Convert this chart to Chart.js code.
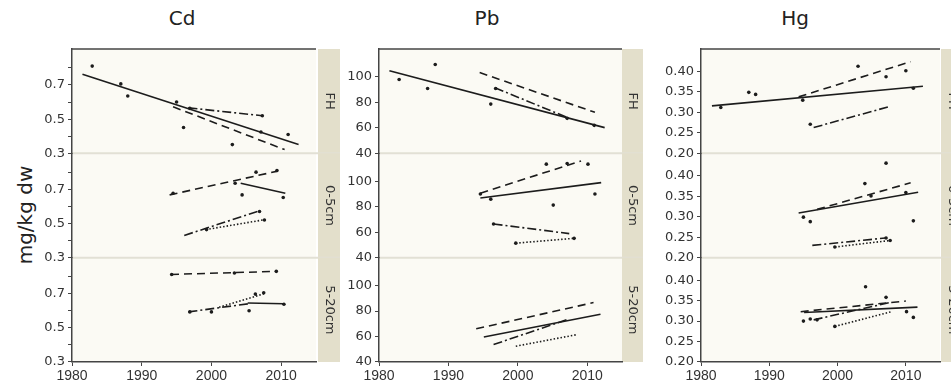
<!DOCTYPE html>
<html>
<head>
<meta charset="utf-8">
<script src="https://cdn.jsdelivr.net/npm/chart.js@4"></script>
<style>
  body { margin: 0; background: #fff; width: 951px; height: 385px; overflow: hidden; position: relative; font-family: "DejaVu Sans", sans-serif; }
  canvas { position: absolute; top: 0; }
  .title { position: absolute; top: 6px; font-size: 20px; line-height: 24px; color: #222; transform: translateX(-50%); }
  .ylab { position: absolute; left: 25px; top: 215px; font-size: 20px; color: #222; white-space: nowrap; transform: translate(-50%, -50%) rotate(-90deg); }
</style>
</head>
<body>
<div class="title" style="left:182px">Cd</div>
<div class="title" style="left:487px">Pb</div>
<div class="title" style="left:795px">Hg</div>
<div class="ylab">mg/kg dw</div>
<canvas id="cd" width="315" height="385" style="left:30px"></canvas>
<canvas id="pb" width="305" height="385" style="left:345px"></canvas>
<canvas id="hg" width="301" height="385" style="left:650px"></canvas>
<script>
// facet rows and axis ticks
const facets = ['FH', '0-5cm', '5-20cm'];
const xTicks = [1980, 1990, 2000, 2010];
const cdTicks = [0.3, 0.4, 0.5, 0.6, 0.7, 0.8];
const cdLabels = [0.3, 0.5, 0.7];
const pbTicks = [40, 60, 80, 100];
const hgTicks = [0.20, 0.25, 0.30, 0.35, 0.40];

// Cd  [year, mg/kg]
const cdFhPoints = [[1982.9,0.81],[1987.0,0.706],[1988.0,0.635],[1995.0,0.60],[1996.0,0.451],[1996.9,0.563],[2003.0,0.351],[2007.1,0.425],[2007.3,0.52],[2011.0,0.41]];
const cdFhSolid = [[1981.5,0.763],[2012.5,0.351]];
const cdFhDash = [[1994.5,0.572],[2010.5,0.322]];
const cdFhDashDot = [[1996.7,0.566],[2007.3,0.52]];

const cd05Points = [[1994.5,0.677],[2003.4,0.735],[2004.4,0.667],[2006.4,0.80],[2009.4,0.81],[2010.3,0.652],[1999.3,0.464],[2006.9,0.57],[2007.6,0.52]];
const cd05Solid = [[2004.2,0.735],[2010.6,0.677]];
const cd05Dash = [[1994.0,0.667],[2009.5,0.806]];
const cd05DashDot = [[1996.1,0.43],[2006.9,0.574]];
const cd05Dotted = [[1999.2,0.464],[2007.6,0.522]];

const cd520Points = [[1994.3,0.812],[2003.3,0.82],[2009.3,0.83],[1996.9,0.593],[2000.0,0.593],[2005.4,0.60],[2006.3,0.697],[2007.5,0.705],[2010.4,0.638]];
const cd520Solid = [[2005.2,0.645],[2010.4,0.641]];
const cd520Dash = [[1994.2,0.812],[2009.5,0.83]];
const cd520DashDot = [[1996.7,0.593],[2005.4,0.641]];
const cd520Dotted = [[2001.1,0.62],[2007.6,0.70]];

// Pb
const pbFhPoints = [[1982.9,98],[1987.0,91],[1988.1,109.8],[1996.1,78.7],[1996.8,91],[2007.1,67.5],[2011.0,62]];
const pbFhSolid = [[1981.5,104.9],[2012.5,60.2]];
const pbFhDash = [[1994.5,103.5],[2011.1,72.2]];
const pbFhDashDot = [[1996.7,91.5],[2007.2,68]];

const pb05Points = [[1994.6,90],[1996.1,86],[2004.1,113.5],[2005.1,81.3],[2007.1,114],[2010.1,113.5],[2011.1,90],[1996.5,66.5],[1999.7,51.4],[2008.1,55.2]];
const pb05Solid = [[1994.6,86.9],[2012.0,99]];
const pb05Dash = [[1994.6,90.7],[2009.1,116]];
const pb05DashDot = [[1996.5,66.5],[2007.4,58.9]];
const pb05Dotted = [[1999.7,51.4],[2008.1,55.2]];

const pb520Points = [];
const pb520Solid = [[1995.1,59.6],[2011.9,77.5]];
const pb520Dash = [[1994.0,66.1],[2010.9,86.7]];
const pb520DashDot = [[1996.5,53.7],[2007.2,73.5]];
const pb520Dotted = [[1999.7,52.4],[2008.6,61.6]];

// Hg
const hgFhPoints = [[1982.9,0.312],[1987.0,0.349],[1988.0,0.344],[1994.9,0.33],[1996.0,0.271],[2003.0,0.413],[2007.1,0.387],[2010.0,0.402],[2011.1,0.359]];
const hgFhSolid = [[1981.6,0.316],[2012.5,0.364]];
const hgFhDash = [[1994.3,0.338],[2010.7,0.424]];
const hgFhDashDot = [[1996.5,0.263],[2007.5,0.314]];

const hg05Points = [[1995.0,0.299],[1996.0,0.288],[2004.0,0.381],[2004.9,0.351],[2007.1,0.431],[2010.0,0.359],[2011.1,0.29],[1999.6,0.226],[2007.1,0.248],[2007.7,0.242]];
const hg05Solid = [[1994.3,0.309],[2011.8,0.36]];
const hg05Dash = [[1997.0,0.318],[2010.7,0.383]];
const hg05DashDot = [[1996.3,0.23],[2007.0,0.248]];
const hg05Dotted = [[1999.6,0.226],[2007.7,0.242]];

const hg520Points = [[1995.0,0.30],[1996.0,0.305],[1997.0,0.303],[1999.6,0.287],[2004.1,0.384],[2007.1,0.358],[2010.1,0.323],[2011.1,0.309]];
const hg520Solid = [[1995.1,0.321],[2011.7,0.334]];
const hg520Dash = [[1994.6,0.323],[2010.0,0.349]];
const hg520DashDot = [[1996.5,0.303],[2007.8,0.346]];
const hg520Dotted = [[1999.6,0.287],[2007.9,0.323]];

const ink = '#1c1c1c';
const dashes = { solid: [], dash: [8, 5], dashDot: [9, 3, 2, 3], dotted: [1.5, 2] };
const rowIds = ['yFH', 'y05', 'y520'];

// background, row separators, top frame and the grey facet strips
const facetPlugin = {
  id: 'facet',
  beforeDraw(chart, args, opts) {
    const { ctx, chartArea: a } = chart;
    const sx = a.right + opts.gap;
    ctx.save();
    ctx.fillStyle = '#fbfaf4';
    ctx.fillRect(a.left, a.top, a.right - a.left, a.bottom - a.top);
    rowIds.forEach((id, i) => {
      const s = chart.scales[id];
      ctx.fillStyle = '#e3dfcb';
      ctx.fillRect(sx, s.top, opts.width, s.bottom - s.top);
      ctx.save();
      ctx.translate(sx + opts.width / 2, (s.top + s.bottom) / 2);
      ctx.rotate(Math.PI / 2);
      ctx.fillStyle = '#333';
      ctx.font = '13px "DejaVu Sans"';
      ctx.textAlign = 'center';
      ctx.textBaseline = 'middle';
      ctx.fillText(facets[i], 0, 0);
      ctx.restore();
      if (i < 2) {
        ctx.strokeStyle = '#e2e0d5';
        ctx.lineWidth = 2;
        ctx.beginPath();
        ctx.moveTo(a.left, s.bottom);
        ctx.lineTo(sx + opts.width, s.bottom);
        ctx.stroke();
      }
    });
    ctx.strokeStyle = '#444';
    ctx.lineWidth = 1.5;
    ctx.beginPath();
    ctx.moveTo(a.left, a.top);
    ctx.lineTo(a.right, a.top);
    ctx.stroke();
    ctx.restore();
  }
};

let toXY = pts => pts.map(p => ({ x: p[0], y: p[1] }));

let lineSet = (pts, style, axis) => ({
  type: 'line', data: toXY(pts), yAxisID: axis,
  borderColor: ink, borderWidth: 1.6, borderDash: dashes[style],
  pointRadius: 0, fill: false, tension: 0
});

let pointSet = (pts, axis) => ({
  type: 'scatter', data: toXY(pts), yAxisID: axis,
  pointRadius: 1.8, backgroundColor: ink, borderWidth: 0
});

let yScale = (weight, min, max, ticks, fmt, w) => ({
  type: 'linear', position: 'left', stack: 'rows', stackWeight: 1, weight: weight,
  min: min, max: max,
  afterBuildTicks: s => { s.ticks = ticks.map(v => ({ value: v })); },
  afterFit: s => { s.width = w; },
  grid: { drawOnChartArea: false, tickLength: 4, color: '#444' },
  border: { color: '#444', width: 1.5 },
  ticks: { callback: fmt, color: '#333', padding: 3, autoSkip: false, font: { family: 'DejaVu Sans', size: 13 } }
});

let drawColumn = (id, rows, y, pad) => {
  const datasets = [];
  rows.forEach((r, i) => {
    const axis = rowIds[i];
    ['solid', 'dash', 'dashDot', 'dotted'].forEach(k => {
      if (r[k]) datasets.push(lineSet(r[k], k, axis));
    });
    if (r.points.length) datasets.push(pointSet(r.points, axis));
  });
  new Chart(document.getElementById(id), {
    type: 'scatter',
    data: { datasets: datasets },
    plugins: [facetPlugin],
    options: {
      responsive: false,
      animation: false,
      layout: { padding: { top: 49, right: pad.right, bottom: 3, left: 0 } },
      plugins: {
        legend: { display: false },
        tooltip: { enabled: false },
        facet: { gap: pad.gap, width: pad.strip }
      },
      scales: {
        x: {
          type: 'linear', min: 1980, max: 2015,
          afterBuildTicks: s => { s.ticks = xTicks.map(v => ({ value: v })); },
          afterFit: s => { s.height = 20; },
          grid: { drawOnChartArea: false, tickLength: 4, color: '#444' },
          border: { color: '#444', width: 1.5 },
          ticks: { callback: v => String(v), color: '#333', padding: 2, maxRotation: 0, autoSkip: false, font: { family: 'Liberation Sans', size: 14 } }
        },
        yFH: yScale(3, y.min, y.max, y.ticks, y.fmt, y.w),
        y05: yScale(2, y.min, y.max, y.ticks, y.fmt, y.w),
        y520: yScale(1, y.min, y.max, y.ticks, y.fmt, y.w)
      }
    }
  });
};

drawColumn('cd', [
  { points: cdFhPoints, solid: cdFhSolid, dash: cdFhDash, dashDot: cdFhDashDot },
  { points: cd05Points, solid: cd05Solid, dash: cd05Dash, dashDot: cd05DashDot, dotted: cd05Dotted },
  { points: cd520Points, solid: cd520Solid, dash: cd520Dash, dashDot: cd520DashDot, dotted: cd520Dotted }
], { min: 0.3, max: 0.91, ticks: cdTicks, fmt: v => cdLabels.includes(v) ? v.toFixed(1) : '', w: 42 },
   { right: 29, gap: 2, strip: 22 });

drawColumn('pb', [
  { points: pbFhPoints, solid: pbFhSolid, dash: pbFhDash, dashDot: pbFhDashDot },
  { points: pb05Points, solid: pb05Solid, dash: pb05Dash, dashDot: pb05DashDot, dotted: pb05Dotted },
  { points: pb520Points, solid: pb520Solid, dash: pb520Dash, dashDot: pb520DashDot, dotted: pb520Dotted }
], { min: 40, max: 122, ticks: pbTicks, fmt: v => String(v), w: 34 },
   { right: 28, gap: 0, strip: 21 });

drawColumn('hg', [
  { points: hgFhPoints, solid: hgFhSolid, dash: hgFhDash, dashDot: hgFhDashDot },
  { points: hg05Points, solid: hg05Solid, dash: hg05Dash, dashDot: hg05DashDot, dotted: hg05Dotted },
  { points: hg520Points, solid: hg520Solid, dash: hg520Dash, dashDot: hg520DashDot, dotted: hg520Dotted }
], { min: 0.2, max: 0.455, ticks: hgTicks, fmt: v => v.toFixed(2), w: 51 },
   { right: 11, gap: 1, strip: 22 });
</script>
</body>
</html>
